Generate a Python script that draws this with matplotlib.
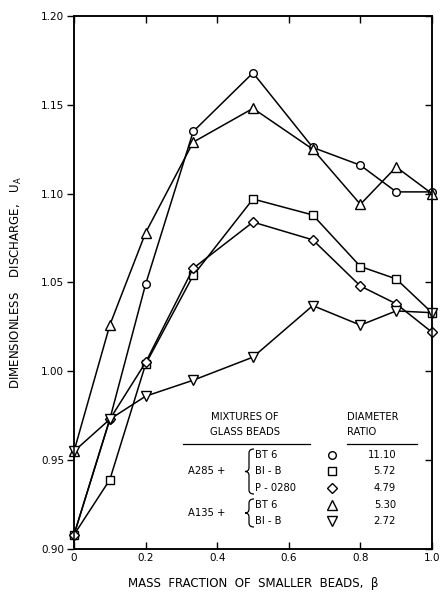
import matplotlib
matplotlib.use("Agg")
import matplotlib.pyplot as plt
from matplotlib.path import Path
from matplotlib.patches import PathPatch

beta = [0.0, 0.1, 0.2, 0.333, 0.5, 0.667, 0.8, 0.9, 1.0]

a285_bt6 = [0.908, 0.973, 1.049, 1.135, 1.168, 1.126, 1.116, 1.101, 1.101]
a285_bib = [0.908, 0.939, 1.004, 1.054, 1.097, 1.088, 1.059, 1.052, 1.033]
a285_p0280 = [0.908, 0.973, 1.005, 1.058, 1.084, 1.074, 1.048, 1.038, 1.022]
a135_bt6 = [0.955, 1.026, 1.078, 1.129, 1.148, 1.125, 1.094, 1.115, 1.100]
a135_bib = [0.955, 0.973, 0.986, 0.995, 1.008, 1.037, 1.026, 1.034, 1.033]

series = [a285_bt6, a285_bib, a285_p0280, a135_bt6, a135_bib]
markers = ["o", "s", "D", "^", "v"]
msizes = [5.5, 5.5, 5.0, 6.5, 6.5]
ratios = ["11.10", "5.72", "4.79", "5.30", "2.72"]
names = ["BT 6", "BI - B", "P - 0280", "BT 6", "BI - B"]

xticks = [0, 0.2, 0.4, 0.6, 0.8, 1.0]
xticklabels = ["0", "0.2", "0.4", "0.6", "0.8", "1.0"]
yticks = [0.90, 0.95, 1.00, 1.05, 1.10, 1.15, 1.20]
yticklabels = ["0.90", "0.95", "1.00", "1.05", "1.10", "1.15", "1.20"]

fig = plt.figure(figsize=(4.4, 5.95), dpi=100)
ax = fig.add_axes([74/440, 1-549/595, (432-74)/440, (549-16)/595])

for ys, m, ms in zip(series, markers, msizes):
    ax.plot(beta, ys, color="black", lw=1.1, marker=m, ms=ms,
            mfc="white", mec="black", mew=1.0, clip_on=False, zorder=3)

ax.set_xlim(0, 1.0)
ax.set_ylim(0.90, 1.20)
ax.set_xticks(xticks)
ax.set_xticklabels(xticklabels, fontsize=7.5)
ax.set_yticks(yticks)
ax.set_yticklabels(yticklabels, fontsize=7.5)
ax.tick_params(axis="x", length=5, width=1, direction="in", top=True, pad=3)
ax.tick_params(axis="y", length=5, width=1, direction="out", left=True,
               right=False, pad=2)
axr = ax.twinx()
axr.set_ylim(ax.get_ylim())
axr.set_yticks(yticks)
axr.set_yticklabels([])
axr.tick_params(axis="y", length=5, width=1, direction="in")
for s in list(ax.spines.values()) + list(axr.spines.values()):
    s.set_linewidth(1.1)

ax.set_xlabel("MASS  FRACTION  OF  SMALLER  BEADS,  β", fontsize=8.5, labelpad=10)
ax.set_ylabel("DIMENSIONLESS    DISCHARGE,   $\\mathrm{U_A}$", fontsize=8.5, labelpad=12)

def fx(px):
    return px / 440
def fy(py):
    return 1 - py / 595

fs = 7.2
fig.text(fx(245), fy(417), "MIXTURES OF", ha="center", va="center", fontsize=fs)
fig.text(fx(245), fy(432), "GLASS BEADS", ha="center", va="center", fontsize=fs)
fig.text(fx(347), fy(417), "DIAMETER", ha="left", va="center", fontsize=fs)
fig.text(fx(347), fy(432), "RATIO", ha="left", va="center", fontsize=fs)
fig.add_artist(plt.Line2D([fx(183), fx(310)], [fy(444), fy(444)], color="black", lw=0.9))
fig.add_artist(plt.Line2D([fx(347), fx(417)], [fy(444), fy(444)], color="black", lw=0.9))

row_y = [455, 471, 488, 505, 521]
for i, (nm, m, ms, r) in enumerate(zip(names, markers, msizes, ratios)):
    y = fy(row_y[i])
    fig.text(fx(255), y, nm, ha="left", va="center", fontsize=fs)
    fig.add_artist(plt.Line2D([fx(332)], [y], marker=m, ms=ms, mfc="white",
                              mec="black", mew=1.0, linestyle="none"))
    fig.text(fx(396), y, r, ha="right", va="center", fontsize=fs)

def brace(tipx, midx, cuspx, top, bot):
    mid = (top + bot) / 2
    r = 4
    pts = [(tipx, top), (midx, top), (midx, top + r),
           (midx, mid - r),
           (midx, mid), (cuspx, mid),
           (midx, mid), (midx, mid + r),
           (midx, bot - r),
           (midx, bot), (tipx, bot)]
    codes = [Path.MOVETO, Path.CURVE3, Path.CURVE3,
             Path.LINETO,
             Path.CURVE3, Path.CURVE3,
             Path.CURVE3, Path.CURVE3,
             Path.LINETO,
             Path.CURVE3, Path.CURVE3]
    pts = [(fx(a), fy(b)) for a, b in pts]
    fig.add_artist(PathPatch(Path(pts, codes), fill=False, lw=0.9,
                             ec="black", transform=fig.transFigure))

fig.text(fx(188), fy(471), "A285 +", ha="left", va="center", fontsize=fs)
brace(254, 249, 245, 449, 494)
fig.text(fx(188), fy(513), "A135 +", ha="left", va="center", fontsize=fs)
brace(254, 249, 245, 499, 527)

fig.savefig("out.png", dpi=100)
